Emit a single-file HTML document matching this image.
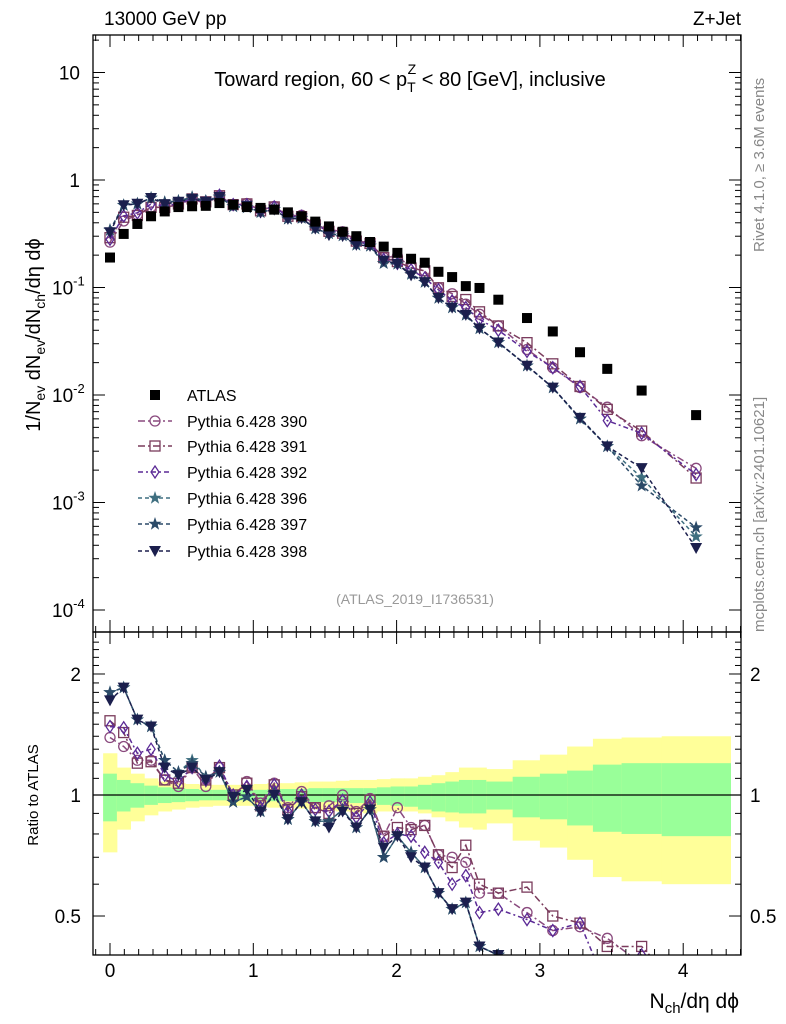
<!DOCTYPE html>
<html><head><meta charset="utf-8"><style>
html,body{margin:0;padding:0;background:#fff;width:786px;height:1024px;overflow:hidden}
svg{display:block;font-family:"Liberation Sans",sans-serif}
</style></head><body>
<svg id="chart" width="786" height="1024" viewBox="0 0 786 1024" xmlns="http://www.w3.org/2000/svg">
<defs>
<clipPath id="cm"><rect x="93" y="35" width="648" height="597"/></clipPath>
<clipPath id="cr"><rect x="93" y="632" width="648" height="323"/></clipPath>
</defs>
<g id="bands" clip-path="url(#cr)"></g>
<g id="ratio" clip-path="url(#cr)"></g>
<g id="main" clip-path="url(#cm)"></g>
<g id="axes"></g>
<text x="104" y="25" font-size="19">13000 GeV pp</text>
<text x="741" y="25" font-size="19" text-anchor="end">Z+Jet</text>
<text x="410" y="86" font-size="20" text-anchor="middle">Toward region, 60 &lt; p<tspan font-size="14" dy="6">T</tspan><tspan font-size="14" dx="-8" dy="-18">Z</tspan><tspan dy="12"> &lt; 80 [GeV], inclusive</tspan></text>
<text x="415" y="604" font-size="14" fill="#999" text-anchor="middle">(ATLAS_2019_I1736531)</text>
<text transform="translate(764,252) rotate(-90)" font-size="15" fill="#888">Rivet 4.1.0, ≥ 3.6M events</text>
<text transform="translate(764,632) rotate(-90)" font-size="15" fill="#888">mcplots.cern.ch [arXiv:2401.10621]</text>
<text transform="translate(40,335) rotate(-90)" font-size="20" text-anchor="middle">1/N<tspan font-size="14" dy="5">ev</tspan><tspan dy="-5"> dN</tspan><tspan font-size="14" dy="5">ev</tspan><tspan dy="-5">/dN</tspan><tspan font-size="14" dy="5">ch</tspan><tspan dy="-5">/dη dϕ</tspan></text>
<text transform="translate(38,795) rotate(-90)" font-size="15" text-anchor="middle">Ratio to ATLAS</text>
<text x="739" y="1008" font-size="21" text-anchor="end">N<tspan font-size="15" dy="5">ch</tspan><tspan dy="-5">/dη dϕ</tspan></text>
<g id="legend"></g>
</svg>
<script>
const xVals=[0,0.0955,0.191,0.2865,0.382,0.4775,0.573,0.6685,0.764,0.8595,0.955,1.0505,1.146,1.2415,1.337,1.4325,1.528,1.6235,1.719,1.8145,1.91,2.0055,2.101,2.1965,2.292,2.3875,2.483,2.5785,2.71,2.91,3.09,3.28,3.47,3.71,4.09];
const binEdges=[-0.048,0.048,0.143,0.239,0.334,0.43,0.525,0.621,0.716,0.812,0.907,1.003,1.098,1.194,1.289,1.385,1.48,1.576,1.671,1.767,1.862,1.958,2.053,2.149,2.244,2.34,2.435,2.531,2.626,2.81,3.0,3.19,3.37,3.57,3.85,4.33];
const atlas=[0.19,0.315,0.39,0.46,0.51,0.56,0.57,0.575,0.61,0.59,0.56,0.55,0.53,0.50,0.46,0.41,0.37,0.33,0.30,0.265,0.24,0.21,0.185,0.17,0.14,0.125,0.103,0.099,0.077,0.052,0.039,0.025,0.0175,0.011,0.0065];
const r390=[1.39,1.32,1.22,1.22,1.09,1.05,1.17,1.05,1.17,0.99,1.08,0.955,1.07,0.93,1.02,0.93,0.94,1.00,0.91,0.98,0.79,0.93,0.83,0.84,0.71,0.70,0.68,0.57,0.57,0.51,0.46,0.47,0.44,0.38,0.32];
const r391=[1.53,1.43,1.20,1.21,1.09,1.07,1.17,1.09,1.17,1.00,1.07,0.94,1.06,0.92,0.99,0.93,0.90,0.97,0.90,0.97,0.79,0.83,0.82,0.84,0.71,0.66,0.75,0.60,0.57,0.59,0.50,0.48,0.42,0.42,0.26];
const r392=[1.48,1.47,1.27,1.30,1.12,1.08,1.17,1.09,1.18,1.00,1.05,0.93,1.06,0.91,1.00,0.92,0.91,0.97,0.88,0.96,0.76,0.80,0.79,0.72,0.68,0.60,0.63,0.51,0.52,0.49,0.46,0.48,0.33,0.40,0.28];
const r396=[1.80,1.85,1.54,1.48,1.22,1.14,1.22,1.11,1.14,0.96,0.99,0.91,1.01,0.87,0.96,0.86,0.86,0.92,0.83,0.92,0.70,0.79,0.72,0.66,0.57,0.52,0.54,0.42,0.40,0.36,0.30,0.24,0.19,0.155,0.074];
const r397=[1.80,1.85,1.54,1.48,1.22,1.14,1.20,1.11,1.14,0.96,0.99,0.91,1.01,0.87,0.96,0.86,0.86,0.92,0.83,0.92,0.70,0.79,0.72,0.66,0.57,0.52,0.54,0.42,0.40,0.36,0.30,0.24,0.19,0.13,0.09];
const r398=[1.72,1.85,1.54,1.48,1.17,1.12,1.17,1.09,1.14,0.99,1.03,0.91,1.00,0.87,0.96,0.86,0.83,0.91,0.83,0.92,0.74,0.79,0.70,0.66,0.57,0.52,0.54,0.42,0.40,0.36,0.30,0.245,0.19,0.19,0.058];
const yellowUp=[1.27,1.17,1.13,1.10,1.08,1.07,1.065,1.06,1.06,1.06,1.06,1.065,1.07,1.07,1.075,1.08,1.08,1.085,1.09,1.09,1.095,1.10,1.10,1.11,1.12,1.14,1.17,1.17,1.16,1.22,1.26,1.32,1.38,1.39,1.40];
const greenUp=[1.13,1.09,1.07,1.055,1.045,1.04,1.035,1.03,1.03,1.03,1.03,1.03,1.035,1.035,1.035,1.04,1.04,1.04,1.04,1.04,1.045,1.05,1.05,1.06,1.07,1.08,1.09,1.09,1.08,1.11,1.13,1.15,1.19,1.20,1.20];
const greenDn=[0.86,0.91,0.93,0.945,0.955,0.96,0.965,0.97,0.97,0.97,0.97,0.97,0.965,0.965,0.965,0.96,0.96,0.96,0.955,0.955,0.945,0.94,0.935,0.92,0.91,0.905,0.90,0.90,0.92,0.88,0.87,0.84,0.81,0.80,0.79];
const yellowDn=[0.72,0.82,0.86,0.89,0.91,0.92,0.93,0.935,0.94,0.94,0.94,0.935,0.93,0.93,0.925,0.92,0.915,0.91,0.905,0.90,0.91,0.91,0.91,0.90,0.88,0.86,0.83,0.82,0.85,0.77,0.74,0.69,0.625,0.61,0.60];
const seriesNames=["Pythia 6.428 390","Pythia 6.428 391","Pythia 6.428 392","Pythia 6.428 396","Pythia 6.428 397","Pythia 6.428 398"];

const NS="http://www.w3.org/2000/svg";
const X=v=>110+v*143.3;
const YM=v=>180-107.5*Math.log10(v);
const YR=v=>795-402*Math.log10(v);
const R_MIN=0.3;
function mk(tag,attrs,parent){const e=document.createElementNS(NS,tag);for(const k in attrs)e.setAttribute(k,attrs[k]);parent.appendChild(e);return e;}
const gB=document.getElementById('bands'),gR=document.getElementById('ratio'),gM=document.getElementById('main'),gA=document.getElementById('axes'),gL=document.getElementById('legend');

for(let i=0;i<xVals.length;i++){
  const x0=X(binEdges[i]),x1=X(binEdges[i+1]);
  const y=mk('rect',{x:x0,y:YR(yellowUp[i]),width:x1-x0+0.5,height:YR(yellowDn[i])-YR(yellowUp[i]),fill:'#ffff99'},gB);
  
  
  const g=mk('rect',{x:x0,y:YR(greenUp[i]),width:x1-x0+0.5,height:YR(greenDn[i])-YR(greenUp[i]),fill:'#99ff99'},gB);
  
  
}
const one=mk('line',{x1:93,x2:741,y1:YR(1),y2:YR(1),stroke:'#000','stroke-width':1.3},gB);



const styles=[
 {c:'#8a4a7e',m:'circle',d:'7,3,2,3'},
 {c:'#7a3b5c',m:'square',d:'7,3,2,3'},
 {c:'#5b2a96',m:'diamond',d:'5,3,2,3'},
 {c:'#3f6f80',m:'star',d:'4,3'},
 {c:'#2b4a68',m:'star',d:'4,3'},
 {c:'#1b1f4d',m:'tri',d:'4,3'}];
const ratios=[r390,r391,r392,r396,r397,r398];

function marker(type,x,y,c,parent){
  let e;
  if(type==='circle')e=mk('circle',{cx:x,cy:y,r:5,fill:'none',stroke:c,'stroke-width':1.3},parent);
  else if(type==='square')e=mk('rect',{x:x-5,y:y-5,width:10,height:10,fill:'none',stroke:c,'stroke-width':1.3},parent);
  else if(type==='diamond')e=mk('polygon',{points:`${x},${y-6} ${x+4},${y} ${x},${y+6} ${x-4},${y}`,fill:'none',stroke:c,'stroke-width':1.3},parent);
  else if(type==='star'){let p=[];for(let k=0;k<10;k++){const a=-Math.PI/2+k*Math.PI/5,r=k%2?2.8:7;p.push((x+r*Math.cos(a)).toFixed(1)+','+(y+r*Math.sin(a)).toFixed(1));}e=mk('polygon',{points:p.join(' '),fill:c},parent);}
  else if(type==='tri')e=mk('polygon',{points:`${x-6},${y-5} ${x+6},${y-5} ${x},${y+6}`,fill:c},parent);
  else e=mk('rect',{x:x-5,y:y-5,width:10,height:10,fill:'#000'},parent);
  return e;
}

ratios.forEach((r,s)=>{
  const st=styles[s];
  const ptsM=xVals.map((xv,i)=>X(xv)+','+YM(atlas[i]*r[i]).toFixed(1)).join(' ');
  const ptsR=xVals.map((xv,i)=>X(xv)+','+YR(Math.max(r[i],R_MIN)).toFixed(1)).join(' ');
  const lm=mk('polyline',{points:ptsM,fill:'none',stroke:st.c,'stroke-width':1.5,'stroke-dasharray':st.d},gM);
  
  
  const lr=mk('polyline',{points:ptsR,fill:'none',stroke:st.c,'stroke-width':1.5,'stroke-dasharray':st.d},gR);
  
  
  xVals.forEach((xv,i)=>{
    const a=marker(st.m,X(xv),YM(atlas[i]*r[i]),st.c,gM);
    
    
    if(r[i]>=0.37){
      const b=marker(st.m,X(xv),YR(r[i]),st.c,gR);
      
      
    }
  });
});
xVals.forEach((xv,i)=>{
  const a=marker('data',X(xv),YM(atlas[i]),'#000',gM);
  
  
});

[[93,35,648,597],[93,632,648,323]].forEach((f,k)=>{
  const r=mk('rect',{x:f[0],y:f[1],width:f[2],height:f[3],fill:'none',stroke:'#000','stroke-width':1.3},gA);
  
  
});
for(let t=-1;t<=44;t++){
  const v=t/10;const x=X(v);if(x<93||x>741)continue;
  const L=t%10===0?12:6;
  [[35,1],[632,-1],[632,1],[955,-1]].forEach(([y0,d])=>{
    const l=mk('line',{x1:x,x2:x,y1:y0,y2:y0+d*L,stroke:'#000','stroke-width':1},gA);
    
    
  });
}
const xTickLabels=["0","1","2","3","4"];
xTickLabels.forEach((s,i)=>{const t=mk('text',{x:X(i),y:977,'font-size':19,'text-anchor':'middle'},gA);t.textContent=s;
  });
for(let e=-4;e<=1;e++){for(let m=1;m<=9;m++){const v=m*Math.pow(10,e);const y=YM(v);if(y<35||y>632)continue;const L=m===1?12:6;
  [[93,1],[741,-1]].forEach(([x0,d])=>{const l=mk('line',{x1:x0,x2:x0+d*L,y1:y,y2:y,stroke:'#000','stroke-width':1},gA);
  });}}
const yTickVals=[10,1,0.1,0.01,0.001,0.0001];
const yTickExp=["","","-1","-2","-3","-4"];
yTickVals.forEach((v,i)=>{
  let t;
  if(yTickExp[i]){t=mk('text',{x:52,y:YM(v)+7,'font-size':19},gA);t.textContent='10';const s=mk('tspan',{'font-size':13,dy:-9},t);s.textContent=yTickExp[i];}
  else {t=mk('text',{x:80,y:YM(v)+7,'font-size':19,'text-anchor':'end'},gA);t.textContent=v===10?'10':'1';}
  });
for(let v=0.4;v<=2.5;v+=0.1){const y=YR(v);if(y<632||y>955)continue;const maj=[0.5,1,2].some(m=>Math.abs(m-v)<1e-6);const L=maj?12:6;
  [[93,1],[741,-1]].forEach(([x0,d])=>{const l=mk('line',{x1:x0,x2:x0+d*L,y1:y,y2:y,stroke:'#000','stroke-width':1},gA);
  });}
const rTickVals=[2,1,0.5];const rTickLabels=["2","1","0.5"];
rTickVals.forEach((v,i)=>{[[81,'end'],[750,'start']].forEach(([x,a])=>{const t=mk('text',{x:x,y:YR(v)+7,'font-size':19,'text-anchor':a},gA);t.textContent=rTickLabels[i];
  });});

const legY=[395,421,446,472,498,524,551];
const la=marker('data',155,legY[0],'#000',gL);


const lt=mk('text',{x:187,y:legY[0]+6,'font-size':16},gL);lt.textContent='ATLAS';

styles.forEach((st,s)=>{const y=legY[s+1];
  const l=mk('line',{x1:138,x2:172,y1:y,y2:y,stroke:st.c,'stroke-width':1.5,'stroke-dasharray':st.d},gL);
  
  const m=marker(st.m,155,y,st.c,gL);
  
  const t=mk('text',{x:187,y:y+6,'font-size':16},gL);t.textContent=seriesNames[s];
  });
</script>
</body></html>
